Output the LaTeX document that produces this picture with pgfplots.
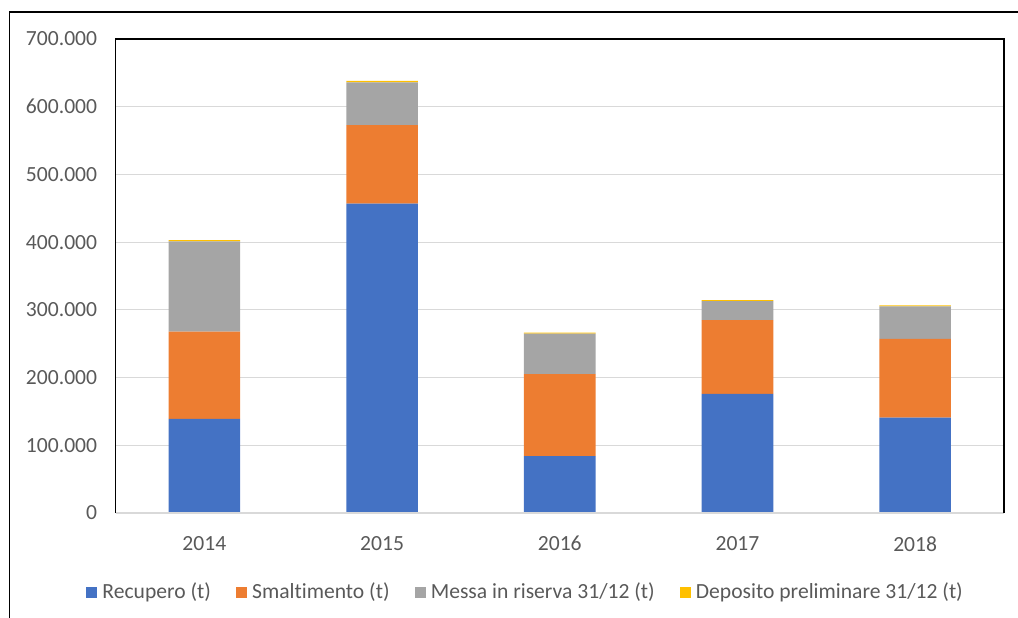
\documentclass[border=0pt]{standalone}
\usepackage{fontspec}
\setmainfont{Carlito}[Ligatures=NoCommon]
\usepackage{pgfplots}
\pgfplotsset{compat=1.18}
\definecolor{cblue}{HTML}{4472C4}
\definecolor{corange}{HTML}{ED7D31}
\definecolor{cgray}{HTML}{A5A5A5}
\definecolor{cyellow}{HTML}{FFC000}
\definecolor{ctext}{HTML}{595959}
\definecolor{cgrid}{HTML}{D9D9D9}
\pgfplotsset{sq legend/.style={legend image code/.code={\fill[##1] (0bp,-2.75bp) rectangle (5.5bp,2.75bp);}}}
\begin{document}
\begin{tikzpicture}
\begin{axis}[
  scale only axis, width=444.25bp, height=237bp,
  ybar stacked, bar width=35.8bp,
  xmin=-0.5, xmax=4.5, ymin=0, ymax=700000,
  xtick={0,1,2,3,4}, xticklabels={2014,2015,2016,2017,2018},
  ytick={0,100000,200000,300000,400000,500000,600000,700000},
  scaled y ticks=false,
  major tick length=0pt, tick style={draw=none},
  axis line style={draw=none},
  ymajorgrids, grid style={color=cgrid, line width=0.6bp},
  tick label style={font=\fontsize{10.8bp}{13bp}\selectfont, text=ctext},
  yticklabel style={/pgf/number format/.cd, fixed, 1000 sep={.}, assume math mode=true, /tikz/.cd, anchor=east, inner sep=0pt, xshift=-9bp},
  xticklabel style={anchor=north, inner sep=0pt, yshift=-11.5bp},
  legend columns=4,
  legend style={at={(0.5,0)}, anchor=center, yshift=-39.5bp, xshift=-17.6bp,
    draw=none, fill=none, font=\fontsize{10.8bp}{13bp}\selectfont, text=ctext,
    inner sep=0pt, nodes={inner sep=0pt},
    column sep=2.6bp,
    /tikz/every even column/.append style={column sep=12.5bp}},
]
\addplot[fill=cblue, draw=none, sq legend] coordinates {(0,139000) (1,457000) (2,84000) (3,176000) (4,141000)};
\addplot[fill=corange, draw=none, sq legend] coordinates {(0,129000) (1,116000) (2,121000) (3,109000) (4,116000)};
\addplot[fill=cgray, draw=none, sq legend] coordinates {(0,133000) (1,63000) (2,60000) (3,28000) (4,48000)};
\addplot[fill=cyellow, draw=none, sq legend] coordinates {(0,2000) (1,2000) (2,1500) (3,1500) (4,1500)};
\legend{Recupero (t), Smaltimento (t), Messa in riserva 31/12 (t), Deposito preliminare 31/12 (t)}
\end{axis}
\draw[cgrid, line width=0.8bp] (current axis.south west) -- (current axis.south east);
\draw[black, line width=0.9bp] (current axis.south west) -- (current axis.north west) -- (current axis.north east) -- (current axis.south east);
\draw[black, line width=0.75bp] (-53bp,-52.5bp) -- (-53bp,250.5bp) -- (451.25bp,250.5bp);
\pgfresetboundingbox
\path[use as bounding box] (-57.75bp,-52.5bp) rectangle (451.25bp,256.5bp);
\end{tikzpicture}
\end{document}
